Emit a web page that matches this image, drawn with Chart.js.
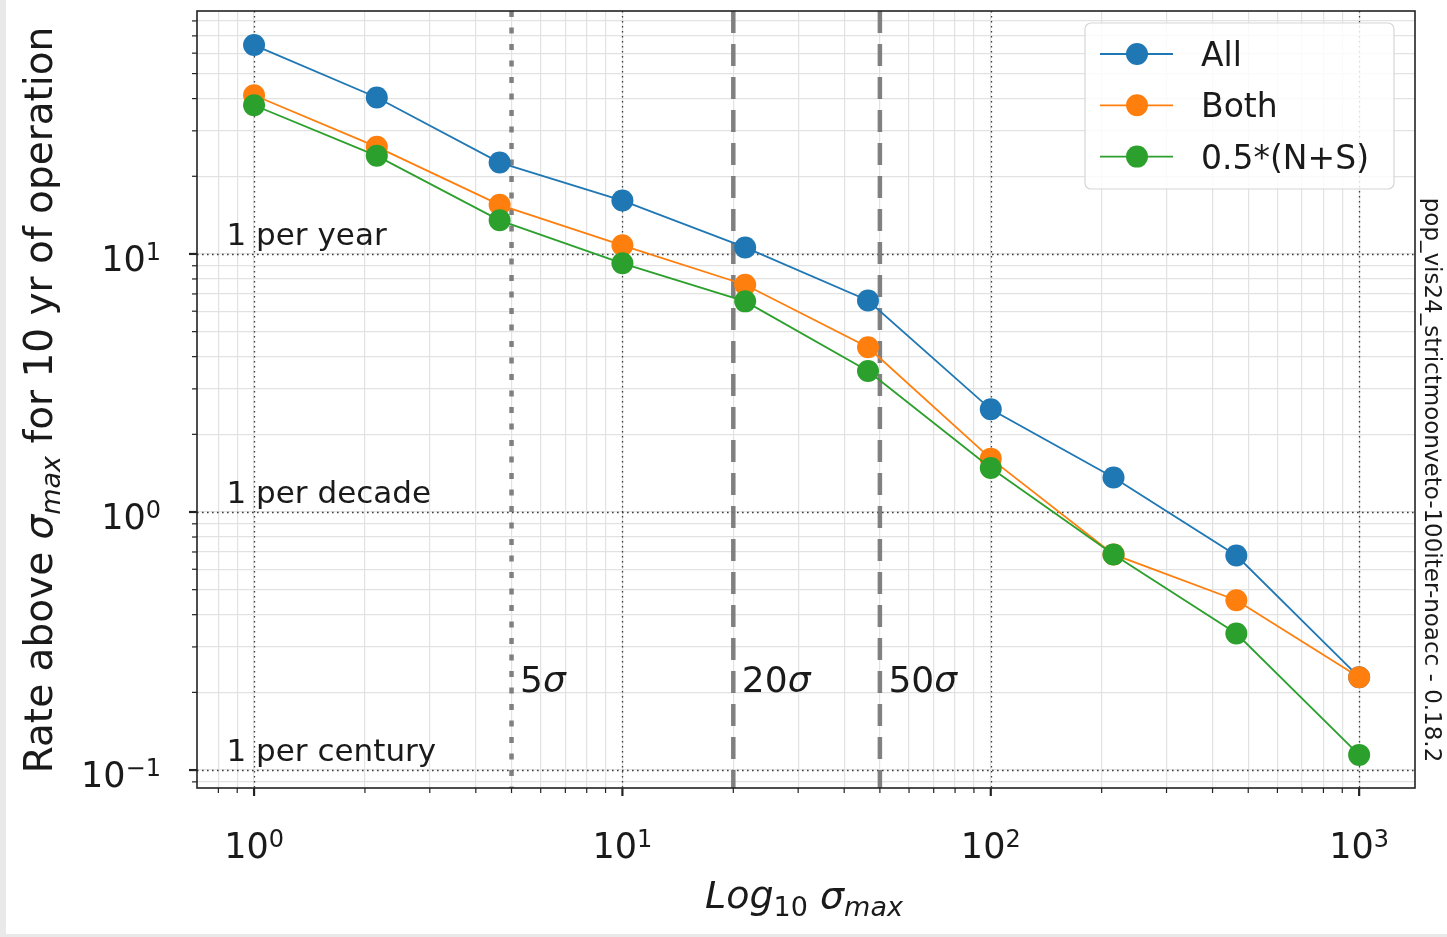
<!DOCTYPE html>
<html>
<head>
<meta charset="utf-8">
<title>Rate above sigma max</title>
<script src="https://cdn.jsdelivr.net/npm/chart.js@4.4.0/dist/chart.umd.min.js"></script>
<style>
  html, body { margin: 0; padding: 0; background: #fff; }
  #wrap { width: 1447px; height: 937px; }
</style>
</head>
<body>
<div id="wrap"><canvas id="rateChart" width="1447" height="937"></canvas></div>
<script>
// sigma_max sampling (log spaced) and the three rate curves
const sigmaMax = [1, 2.154, 4.642, 10, 21.54, 46.42, 100, 215.4, 464.2, 1000];
const rateAll  = [64.5, 40.4, 22.6, 16.1, 10.6, 6.6, 2.5, 1.36, 0.678, 0.229];
const rateBoth = [41.2, 26.0, 15.5, 10.8, 7.6, 4.35, 1.61, 0.685, 0.455, 0.229];
const rateNS   = [37.7, 24.0, 13.5, 9.2, 6.55, 3.52, 1.48, 0.684, 0.338, 0.1145];
const seriesNames  = ['All', 'Both', '0.5*(N+S)'];
const seriesColors = ['#1f77b4', '#ff7f0e', '#2ca02c'];

// reference lines
const sigmaLines  = [5, 20, 50];
const sigmaStyles = ['dot', 'dash', 'dash'];
const guideRates  = [10, 1, 0.1];
const guideLabels = ['1 per year', '1 per decade', '1 per century'];

// axes
const xRange = [0.7034, 1418];
const yRange = [0.0852, 87.4];
const xTickValues = [1, 10, 100, 1000];
const xTickExps   = ['0', '1', '2', '3'];
const yTickValues = [0.1, 1, 10];
const yTickExps   = ['\u22121', '0', '1'];

const FONT = '"DejaVu Sans", "Noto Sans", sans-serif';
const TXT = '#1a1a1a';

function logTicks(min, max) {
    const out = [];
    for (let e = Math.floor(Math.log10(min)); e <= Math.ceil(Math.log10(max)); e++) {
        for (let m = 1; m < 10; m++) {
            const v = m * Math.pow(10, e);
            if (v >= min && v <= max) out.push({ value: v, major: m === 1 });
        }
    }
    return out;
}

// draw a list of text runs [{t, size, italic, dy}] left to right
function drawRuns(ctx, runs, x, y, align) {
    let total = 0;
    runs.forEach(r => {
        ctx.font = (r.italic ? 'italic ' : '') + r.size + 'px ' + FONT;
        r.w = ctx.measureText(r.t).width;
        total += r.w;
    });
    let cx = align === 'center' ? x - total / 2 : (align === 'right' ? x - total : x);
    ctx.textAlign = 'left';
    ctx.textBaseline = 'alphabetic';
    runs.forEach(r => {
        ctx.font = (r.italic ? 'italic ' : '') + r.size + 'px ' + FONT;
        ctx.fillText(r.t, cx, y + (r.dy || 0));
        cx += r.w;
    });
}

const decorations = {
    id: 'decorations',
    beforeDraw(chart) {
        const ctx = chart.ctx;
        ctx.save();
        ctx.fillStyle = '#e9e9e9';
        ctx.fillRect(0, 0, chart.width, chart.height);
        ctx.fillStyle = '#ffffff';
        ctx.fillRect(6, 0, chart.width - 6, chart.height - 3);
        ctx.restore();
    },
    beforeDatasetsDraw(chart) {
        const { ctx, chartArea: a, scales: { x, y } } = chart;
        ctx.save();
        ctx.beginPath();
        ctx.rect(a.left, a.top, a.right - a.left, a.bottom - a.top);
        ctx.clip();

        // dotted major grid
        ctx.strokeStyle = '#3c3c3c';
        ctx.lineWidth = 1.3;
        ctx.setLineDash([1.6, 3.4]);
        xTickValues.forEach(v => {
            const px = Math.round(x.getPixelForValue(v)) + 0.5;
            ctx.beginPath(); ctx.moveTo(px, a.top); ctx.lineTo(px, a.bottom); ctx.stroke();
        });
        yTickValues.forEach(v => {
            const py = Math.round(y.getPixelForValue(v)) + 0.5;
            ctx.beginPath(); ctx.moveTo(a.left, py); ctx.lineTo(a.right, py); ctx.stroke();
        });

        // 5 / 20 / 50 sigma markers
        ctx.strokeStyle = 'rgba(115,115,115,0.9)';
        ctx.lineWidth = 4.5;
        sigmaLines.forEach((s, i) => {
            const px = x.getPixelForValue(s);
            ctx.setLineDash(sigmaStyles[i] === 'dot' ? [6, 10.5] : [22, 11]);
            ctx.beginPath(); ctx.moveTo(px, a.top); ctx.lineTo(px, a.bottom); ctx.stroke();
        });
        ctx.setLineDash([]);

        // rate guide labels
        ctx.fillStyle = TXT;
        guideRates.forEach((r, i) => {
            drawRuns(ctx, [{ t: guideLabels[i], size: 31 }], x.getPixelForValue(0.842), y.getPixelForValue(r) - 9, 'left');
        });
        sigmaLines.forEach(s => {
            drawRuns(ctx, [{ t: String(s), size: 36 }, { t: '\u03c3', size: 36, italic: true }],
                x.getPixelForValue(s * 1.055), y.getPixelForValue(0.2), 'left');
        });
        ctx.restore();
    },
    afterDatasetsDraw(chart) {
        const { ctx, chartArea: a, scales: { x, y } } = chart;
        ctx.save();

        // frame
        ctx.strokeStyle = '#222';
        ctx.lineWidth = 1.6;
        ctx.strokeRect(a.left, a.top, a.right - a.left, a.bottom - a.top);

        // tick marks
        logTicks(xRange[0], xRange[1]).forEach(t => {
            const px = x.getPixelForValue(t.value);
            ctx.lineWidth = t.major ? 2.2 : 1.2;
            ctx.beginPath(); ctx.moveTo(px, a.bottom); ctx.lineTo(px, a.bottom + (t.major ? 8 : 5)); ctx.stroke();
        });
        logTicks(yRange[0], yRange[1]).forEach(t => {
            const py = y.getPixelForValue(t.value);
            ctx.lineWidth = t.major ? 2.2 : 1.2;
            ctx.beginPath(); ctx.moveTo(a.left, py); ctx.lineTo(a.left - (t.major ? 8 : 5), py); ctx.stroke();
        });

        // tick labels 10^n
        ctx.fillStyle = TXT;
        xTickValues.forEach((v, i) => {
            drawRuns(ctx, [{ t: '10', size: 35 }, { t: xTickExps[i], size: 24, dy: -11 }],
                x.getPixelForValue(v), a.bottom + 70, 'center');
        });
        yTickValues.forEach((v, i) => {
            drawRuns(ctx, [{ t: '10', size: 35 }, { t: yTickExps[i], size: 24, dy: -11 }],
                161, y.getPixelForValue(v) + 17, 'right');
        });

        // axis titles
        drawRuns(ctx, [
            { t: 'Log', size: 38, italic: true },
            { t: '10', size: 27, dy: 8 },
            { t: ' ', size: 38 },
            { t: '\u03c3', size: 38, italic: true },
            { t: 'max', size: 27, italic: true, dy: 8 }
        ], 804, 908, 'center');

        ctx.save();
        ctx.translate(52, 400);
        ctx.rotate(-Math.PI / 2);
        drawRuns(ctx, [
            { t: 'Rate above ', size: 39 },
            { t: '\u03c3', size: 39, italic: true },
            { t: 'max', size: 27, italic: true, dy: 8 },
            { t: ' for 10 yr of operation', size: 39 }
        ], 0, 0, 'center');
        ctx.restore();

        // run tag along the right edge
        ctx.save();
        ctx.translate(1425, 480);
        ctx.rotate(Math.PI / 2);
        drawRuns(ctx, [{ t: 'pop_vis24_strictmoonveto-100iter-noacc - 0.18.2', size: 23 }], 0, 0, 'center');
        ctx.restore();

        // legend
        const lx = 1085, ly = 23, lw = 309, lh = 166;
        ctx.fillStyle = 'rgba(255,255,255,0.82)';
        ctx.strokeStyle = '#d6d6d6';
        ctx.lineWidth = 1.2;
        ctx.beginPath();
        ctx.roundRect(lx, ly, lw, lh, 6);
        ctx.fill();
        ctx.stroke();
        chart.data.datasets.forEach((ds, i) => {
            const ry = 54 + i * 51.3;
            ctx.strokeStyle = ds.borderColor;
            ctx.lineWidth = 1.8;
            ctx.beginPath(); ctx.moveTo(1100, ry); ctx.lineTo(1173, ry); ctx.stroke();
            ctx.fillStyle = ds.borderColor;
            ctx.beginPath(); ctx.arc(1137, ry, 11, 0, Math.PI * 2); ctx.fill();
            ctx.fillStyle = TXT;
            drawRuns(ctx, [{ t: ds.label, size: 33 }], 1201, ry + 12, 'left');
        });
        ctx.restore();
    }
};

function makeSet(i, values) {
    return {
        label: seriesNames[i],
        data: sigmaMax.map((s, k) => ({ x: s, y: values[k] })),
        borderColor: seriesColors[i],
        backgroundColor: seriesColors[i],
        borderWidth: 1.8,
        pointRadius: 11,
        pointHoverRadius: 11,
        pointBorderWidth: 0,
        tension: 0,
        order: 3 - i
    };
}

const canvas = document.getElementById('rateChart');
new Chart(canvas.getContext('2d'), {
    type: 'line',
    data: { datasets: [makeSet(0, rateAll), makeSet(1, rateBoth), makeSet(2, rateNS)] },
    options: {
        responsive: false,
        devicePixelRatio: 1,
        animation: false,
        layout: { padding: { top: 8, right: 32, left: 0, bottom: 0 } },
        plugins: { legend: { display: false }, tooltip: { enabled: false } },
        scales: {
            x: {
                type: 'logarithmic',
                min: xRange[0], max: xRange[1],
                afterBuildTicks: s => { s.ticks = logTicks(xRange[0], xRange[1]).map(t => ({ value: t.value })); },
                afterFit: s => { s.height = 149; },
                ticks: { display: false },
                grid: { color: '#e2e2e2', lineWidth: 1.2, drawTicks: false },
                border: { display: false }
            },
            y: {
                type: 'logarithmic',
                min: yRange[0], max: yRange[1],
                afterBuildTicks: s => { s.ticks = logTicks(yRange[0], yRange[1]).map(t => ({ value: t.value })); },
                afterFit: s => { s.width = 197; },
                ticks: { display: false },
                grid: { color: '#e2e2e2', lineWidth: 1.2, drawTicks: false },
                border: { display: false }
            }
        }
    },
    plugins: [decorations]
});
</script>
</body>
</html>
